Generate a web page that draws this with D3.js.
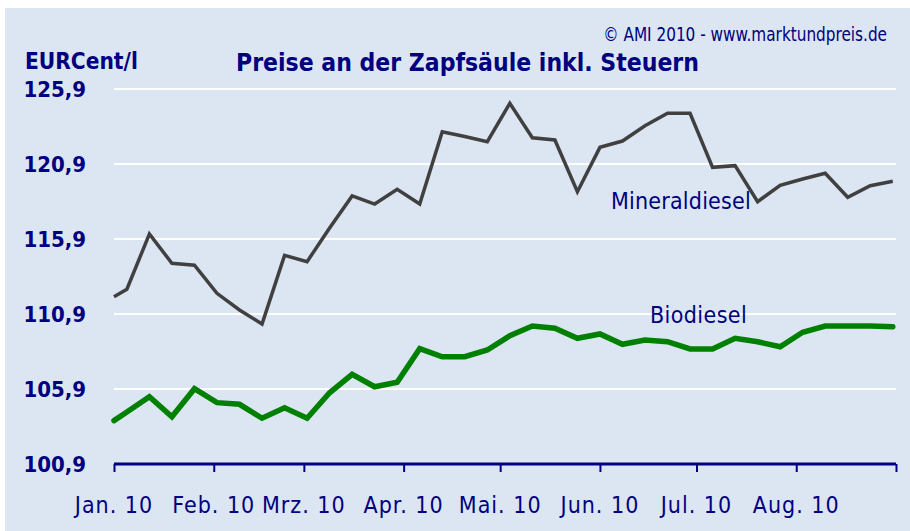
<!DOCTYPE html>
<html>
<head>
<meta charset="utf-8">
<script src="https://cdn.jsdelivr.net/npm/d3@7"></script>
<style>
  html, body { margin: 0; padding: 0; background: #ffffff; }
  svg { display: block; }
  text { font-family: "DejaVu Sans Condensed", "DejaVu Sans", sans-serif; fill: #000080; }
</style>
</head>
<body>
<div id="chart"></div>
<script>

// weekly price dates (2010)
var dates = ["2010-01-01", "2010-01-05", "2010-01-12", "2010-01-19", "2010-01-26",
  "2010-02-02", "2010-02-09", "2010-02-16", "2010-02-23",
  "2010-03-02", "2010-03-09", "2010-03-16", "2010-03-23", "2010-03-30",
  "2010-04-06", "2010-04-13", "2010-04-20", "2010-04-27",
  "2010-05-04", "2010-05-11", "2010-05-18", "2010-05-25",
  "2010-06-01", "2010-06-08", "2010-06-15", "2010-06-22", "2010-06-29",
  "2010-07-06", "2010-07-13", "2010-07-20", "2010-07-27",
  "2010-08-03", "2010-08-10", "2010-08-17", "2010-08-24", "2010-08-31"];

var mineraldiesel = [112.05, 112.55, 116.23, 114.28, 114.15,
  112.28, 111.17, 110.23, 114.81,
  114.39, 116.63, 118.77, 118.23, 119.21,
  118.23, 123.05, 122.73, 122.39,
  124.95, 122.65, 122.5, 119.05,
  122.01, 122.43, 123.45, 124.28, 124.28,
  120.68, 120.79, 118.39, 119.48,
  119.9, 120.28, 118.68, 119.45, 119.75];

var biodiesel = [103.79, 104.37, 105.39, 104.05, 105.92,
  104.99, 104.88, 103.95, 104.65,
  103.95, 105.65, 106.88, 106.05, 106.35,
  108.59, 108.05, 108.05, 108.5,
  109.45, 110.1, 109.95, 109.28,
  109.57, 108.88, 109.17, 109.05, 108.57,
  108.57, 109.28, 109.05, 108.72,
  109.68, 110.1, 110.1, 110.1, 110.05];

var yTicks = [100.9, 105.9, 110.9, 115.9, 120.9, 125.9];
var monthLabels = ["Jan. 10", "Feb. 10", "Mrz. 10", "Apr. 10", "Mai. 10", "Jun. 10", "Jul. 10", "Aug. 10"];

var W = 910, H = 531;
var margin = {top: 89, right: 14, bottom: 67, left: 114},
    width = W - margin.left - margin.right,
    height = H - margin.top - margin.bottom;

var parse = d3.timeParse("%Y-%m-%d");
var pts = dates.map(function(d, i) {
  return {date: parse(d), mineral: mineraldiesel[i], bio: biodiesel[i]};
});

var svg = d3.select("#chart")
  .append("svg")
    .attr("width", W)
    .attr("height", H);

// light blue panel
svg.append("rect")
  .attr("x", 5).attr("y", 8)
  .attr("width", W - 5).attr("height", H - 8)
  .attr("fill", "#dce6f2");

var g = svg.append("g")
  .attr("transform", "translate(" + margin.left + "," + margin.top + ")");

var x = d3.scaleTime()
  .domain([new Date(2010, 0, 1), new Date(2010, 8, 1)])
  .range([0, width]);

var y = d3.scaleLinear()
  .domain([100.9, 125.9])
  .range([height, 0]);

// grid lines
g.selectAll(".grid")
  .data(yTicks.slice(1))
  .enter()
  .append("line")
    .attr("x1", 0).attr("x2", width)
    .attr("y1", function(d) { return y(d); })
    .attr("y2", function(d) { return y(d); })
    .attr("stroke", "#ffffff")
    .attr("stroke-width", 2);

// y labels
g.selectAll(".ylab")
  .data(yTicks)
  .enter()
  .append("text")
    .attr("x", -28)
    .attr("y", function(d) { return y(d); })
    .attr("dy", "0.36em")
    .attr("text-anchor", "end")
    .style("font-size", "22px")
    .style("font-weight", "bold")
    .text(function(d) { return d3.format(".1f")(d).replace(".", ","); });

// x axis
var months = x.ticks(d3.timeMonth.every(1));
var xAxis = g.append("g")
  .attr("transform", "translate(0," + height + ")")
  .call(d3.axisBottom(x).tickValues(months).tickSize(8).tickFormat(""));
xAxis.select(".domain").attr("stroke", "#000080").attr("stroke-width", 3)
  .attr("d", "M0,0H" + width);
xAxis.selectAll(".tick line").attr("stroke", "#000080").attr("stroke-width", 2);

g.selectAll(".xlab")
  .data(monthLabels)
  .enter()
  .append("text")
    .attr("x", function(d, i) { return x(months[i]); })
    .attr("y", height + 49)
    .attr("text-anchor", "middle")
    .style("font-size", "23px")
    .style("letter-spacing", "1px")
    .text(function(d) { return d; });

// lines
var lineMineral = d3.line()
  .x(function(d) { return x(d.date); })
  .y(function(d) { return y(d.mineral); });

var lineBio = d3.line()
  .x(function(d) { return x(d.date); })
  .y(function(d) { return y(d.bio); });

g.append("path")
  .datum(pts)
  .attr("d", lineMineral)
  .attr("fill", "none")
  .attr("stroke", "#404040")
  .attr("stroke-width", 3.5);

g.append("path")
  .datum(pts)
  .attr("d", lineBio)
  .attr("fill", "none")
  .attr("stroke", "#008000")
  .attr("stroke-width", 5.5)
  .attr("stroke-linecap", "round");

// series labels
svg.append("text")
  .attr("x", 611).attr("y", 209)
  .style("font-size", "23px")
  .style("letter-spacing", "0.2px")
  .text("Mineraldiesel");

svg.append("text")
  .attr("x", 650).attr("y", 323)
  .style("font-size", "23px")
  .style("letter-spacing", "0.4px")
  .text("Biodiesel");

// titles
svg.append("text")
  .attr("x", 236).attr("y", 71)
  .style("font-size", "24.5px")
  .style("font-weight", "bold")
  .text("Preise an der Zapfsäule inkl. Steuern");

svg.append("text")
  .attr("x", 25).attr("y", 69)
  .style("font-size", "22.5px")
  .style("font-weight", "bold")
  .text("EURCent/l");

// copyright, squeezed horizontally like the narrow original font
svg.append("text")
  .attr("transform", "translate(887,41) scale(0.85,1)")
  .attr("text-anchor", "end")
  .style("font-size", "20px")
  .text("© AMI 2010 - www.marktundpreis.de");

</script>
</body>
</html>
